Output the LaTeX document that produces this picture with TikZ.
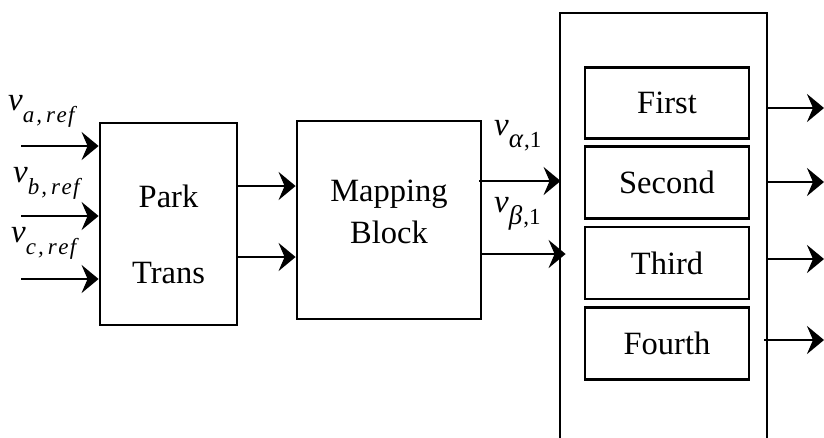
\documentclass[tikz,border=0pt]{standalone}
\usepackage{fontspec}
\setmainfont{Liberation Serif}
\usetikzlibrary{arrows.meta}
\newcommand\vsub[1]{{\fontsize{33}{33}\selectfont\itshape v}\raisebox{-12pt}{\fontsize{23}{23}\selectfont #1}}
\newcommand\refsub[1]{\itshape #1\kern2pt,\kern4pt r\kern1.5pt e\kern1.5pt f}
\newcommand\grsub[1]{{\fontsize{27}{27}\selectfont\itshape #1}\kern1pt,1}
\begin{document}
\begin{tikzpicture}[x=1pt,y=-1pt,
  box/.style={draw,line width=2.8pt,inner sep=0pt},
  txt/.style={font=\fontsize{32.5}{38}\selectfont,inner sep=0pt},
  btxt/.style={txt,anchor=base},
  lbl/.style={inner sep=0pt,anchor=base west},
  arr/.style={line width=2.8pt,-{Stealth[length=17pt 0,width=28pt 0,inset=6pt 0]}}]
\useasboundingbox (0,0) rectangle (824,437);
% blocks
\node[box,minimum width=137pt,minimum height=202pt] (park) at (168.5,224) {};
\node[btxt] (parkt1) at (168.5,207) {Park};
\node[btxt] (parkt2) at (168.5,283) {Trans};
\node[box,minimum width=184pt,minimum height=198pt] (map) at (389,220) {};
\node[btxt] (mapt1) at (389,201) {Mapping};
\node[btxt] (mapt2) at (389,243) {Block};
\node[box,minimum width=207pt,minimum height=480pt] (big) at (663.5,253) {};
\node[box,txt,minimum width=164pt,minimum height=71pt] (first) at (667,103) {First};
\node[box,txt,minimum width=164pt,minimum height=72pt] (second) at (667,182.5) {Second};
\node[box,txt,minimum width=164pt,minimum height=72pt] (third) at (667,263) {Third};
\node[box,txt,minimum width=164pt,minimum height=72pt] (fourth) at (667,343.5) {Fourth};
% input labels
\node[lbl] (la) at (8,110) {\vsub{\refsub{a}}};
\node[lbl] (lb) at (13,182) {\vsub{\refsub{b}}};
\node[lbl] (lc) at (11,242) {\vsub{\refsub{c}}};
\node[lbl] (lal) at (494,135) {\vsub{\grsub{α}}};
\node[lbl] (lbe) at (494,212) {\vsub{\grsub{β}}};
% free ends
\coordinate (ia) at (21,146);
\coordinate (ib) at (21,216);
\coordinate (ic) at (21,279);
\coordinate (o1) at (824,108);
\coordinate (o2) at (824,182);
\coordinate (o3) at (824,259);
\coordinate (o4) at (824,340);
% connectors
\draw[arr] (ia) -- (ia -| park.west);
\draw[arr] (ib) -- (ib -| park.west);
\draw[arr] (ic) -- (ic -| park.west);
\draw[arr] (park.east |- 0,186) -- (map.west |- 0,186);
\draw[arr] (park.east |- 0,257) -- (map.west |- 0,257);
\draw[arr] ([xshift=-3pt]map.east |- 0,181) -- ([xshift=2pt]big.west |- 0,181);
\draw[arr] (map.east |- 0,254) -- ([xshift=7pt]big.west |- 0,254);
\draw[arr] (big.east |- o1) -- (o1);
\draw[arr] (big.east |- o2) -- (o2);
\draw[arr] (big.east |- o3) -- (o3);
\draw[arr] ([xshift=-4pt]big.east |- o4) -- (o4);
\end{tikzpicture}
\end{document}
